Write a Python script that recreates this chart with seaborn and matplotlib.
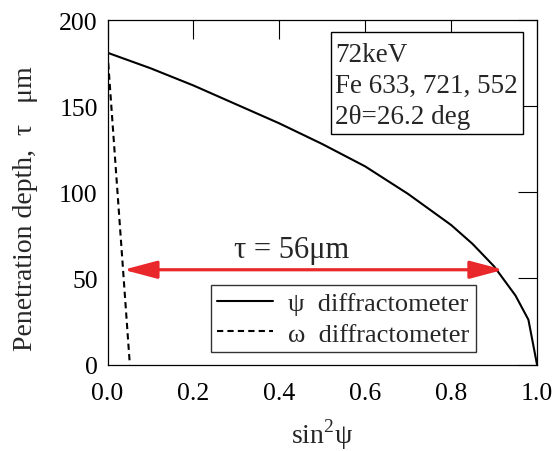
import numpy as np
import pandas as pd
import matplotlib
matplotlib.use("Agg")
import matplotlib.pyplot as plt
from matplotlib.patches import Rectangle
import seaborn as sns

# Data
psi_x = [0.0, 0.1, 0.2, 0.3, 0.4, 0.5, 0.6, 0.7, 0.8, 0.85, 0.9, 0.95, 0.98, 1.0]
psi_y = [181, 172, 162, 151, 140, 128, 115, 99, 81, 70, 57, 40, 26, 0]
omega_x = [0.0, 0.052]
omega_y = [181, 0]
series_names = ["ψ  diffractometer", "ω  diffractometer"]
arrow_x = [0.037, 0.922]
arrow_y = 55
arrow_label = "τ = 56μm"
info_lines = ["72keV", "Fe 633, 721, 552", "2θ=26.2 deg"]
x_ticks = [0.0, 0.2, 0.4, 0.6, 0.8, 1.0]
x_tick_labels = ["0.0", "0.2", "0.4", "0.6", "0.8", "1.0"]
y_ticks = [0, 50, 100, 150, 200]

sns.set_theme(style="white")
plt.rcParams["font.family"] = ["Liberation Serif", "DejaVu Serif"]
plt.rcParams["mathtext.fontset"] = "custom"
plt.rcParams["mathtext.rm"] = "Liberation Serif"

df = pd.concat([
    pd.DataFrame({"x": psi_x, "y": psi_y, "series": series_names[0]}),
    pd.DataFrame({"x": omega_x, "y": omega_y, "series": series_names[1]}),
])

fig = plt.figure(figsize=(5.55, 4.52), dpi=100)
ax = fig.add_axes([107.5 / 555, 1 - 365.5 / 452, 429.5 / 555, 344.5 / 452])

sns.lineplot(data=df, x="x", y="y", hue="series", style="series",
             palette={series_names[0]: "black", series_names[1]: "black"},
             dashes={series_names[0]: "", series_names[1]: (3, 2)},
             sort=False, estimator=None, linewidth=1.5, ax=ax)

ax.set_xlim(0, 1)
ax.set_ylim(0, 200)
ax.set_xticks(x_ticks)
ax.set_xticklabels(x_tick_labels)
ax.set_yticks(y_ticks)
ax.tick_params(direction="in", length=14, width=0.8, top=True, right=True,
               labelsize=18.5, colors="black")
ax.tick_params(axis="x", pad=12.5)
ax.tick_params(axis="y", pad=7)
for s in ax.spines.values():
    s.set_visible(True)
    s.set_color("black")
    s.set_linewidth(0.9)

ax.set_xlabel("sin$^{2}$ψ", fontsize=20, labelpad=9)
ax.set_ylabel("Penetration depth,  τ   μm", fontsize=20)
ax.yaxis.set_label_coords(-0.162, 0.455)

ax.annotate("", xy=(arrow_x[0], arrow_y), xytext=(arrow_x[1], arrow_y),
            arrowprops=dict(arrowstyle="<|-|>,head_length=1.7,head_width=0.45",
                            color="#e8282b", lw=2.3, shrinkA=0, shrinkB=0))
ax.text(0.429, 67, arrow_label, fontsize=22, ha="center", va="center")

# info box
ax.add_patch(Rectangle((0.5204, 0.6691), 0.9674 - 0.5204, 0.9652 - 0.6691,
                       transform=ax.transAxes, fc="white", ec="black", lw=1.0,
                       zorder=5))
for line, yb in zip(info_lines, [0.881, 0.791, 0.701]):
    ax.text(0.5295, yb, line, fontsize=19.5, ha="left", va="baseline",
            transform=ax.transAxes, zorder=6)

leg = ax.legend(loc="lower left", bbox_to_anchor=(0.24, 0.036), fontsize=19,
                frameon=True, fancybox=False, handlelength=2.1,
                borderpad=0.25, labelspacing=0.25, handletextpad=0.6,
                borderaxespad=0)
leg.get_frame().set_edgecolor("black")
leg.get_frame().set_linewidth(1.0)
leg.set_title(None)

fig.savefig("out.png", dpi=100)
